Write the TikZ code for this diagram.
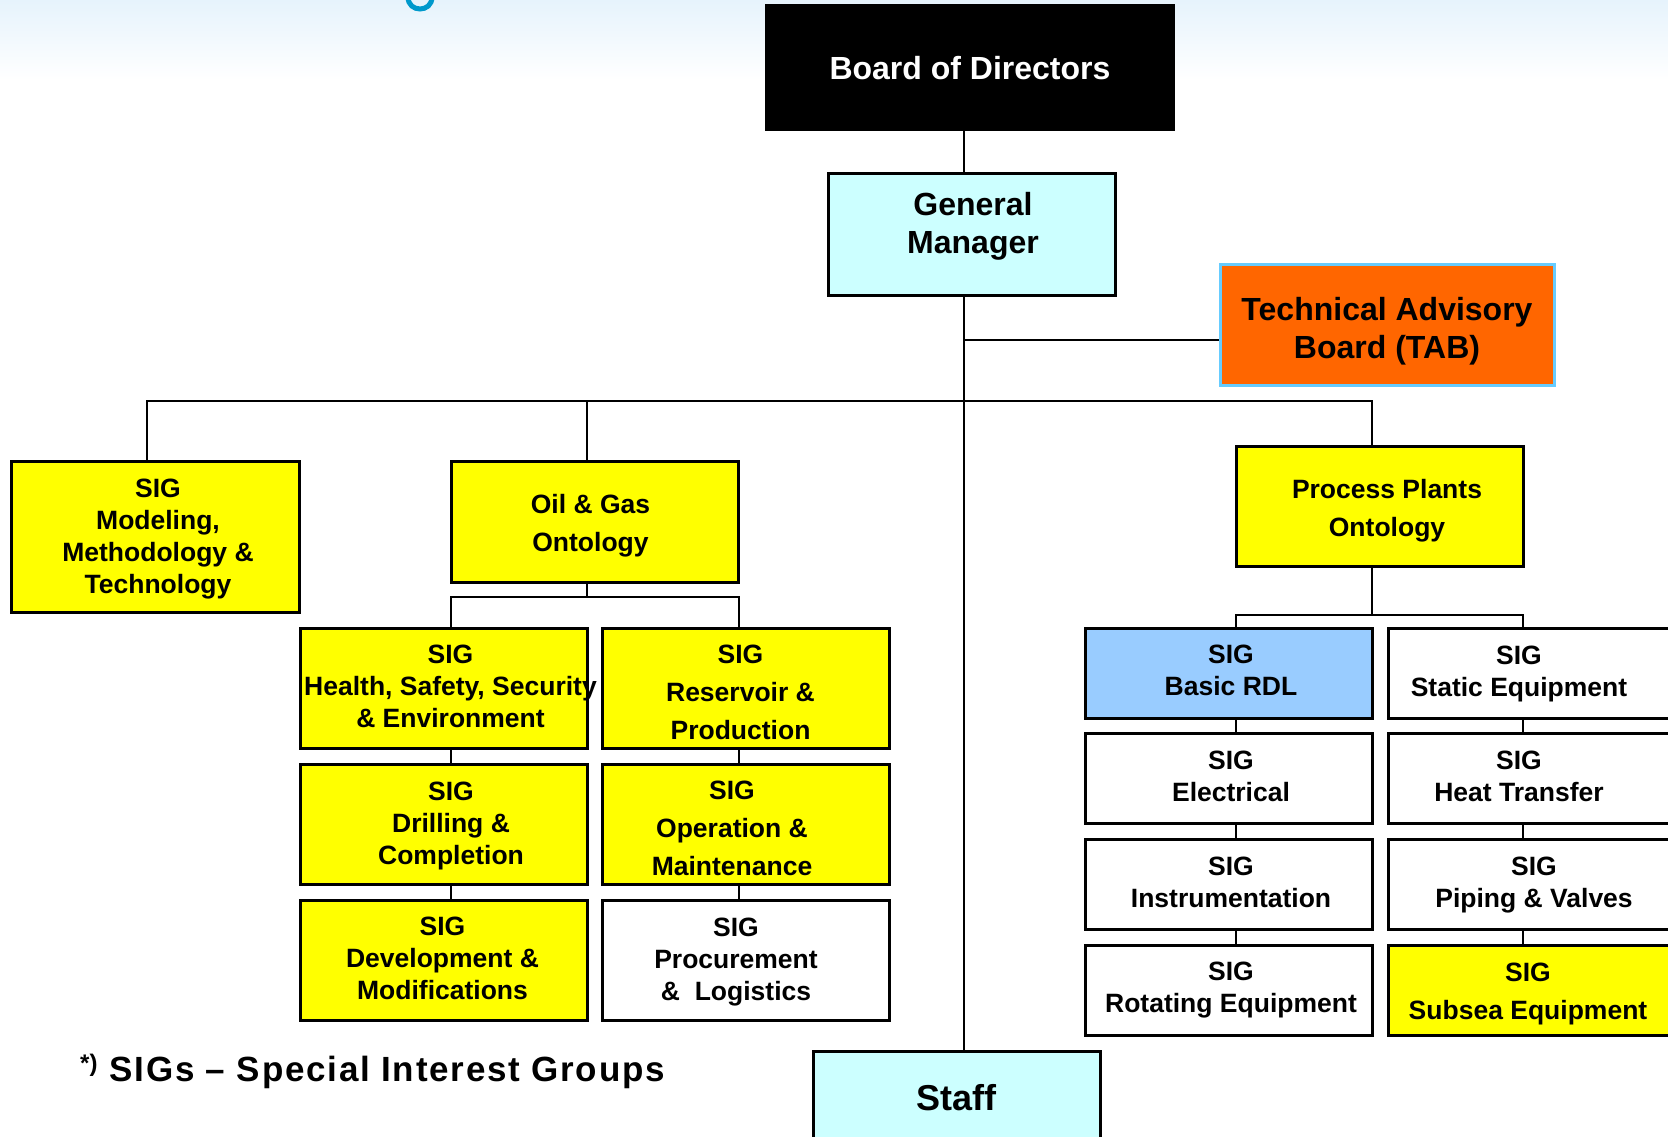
\documentclass[tikz,border=0pt]{standalone}
\usepackage{fontspec}
\setmainfont{Liberation Sans}
\definecolor{sigyellow}{HTML}{FFFF00}
\definecolor{lcyan}{HTML}{CCFFFF}
\definecolor{taborange}{HTML}{FF6600}
\definecolor{tabborder}{HTML}{66CCFF}
\definecolor{rdlblue}{HTML}{99CCFF}
\definecolor{titleblue}{HTML}{0099CC}
\definecolor{topblue}{RGB}{230,243,252}
\begin{document}
\begin{tikzpicture}[x=1pt,y=-1pt,
  box/.style={draw=black, line width=3pt, rectangle, inner sep=0pt},
  yel/.style={box, fill=sigyellow},
  wht/.style={box, fill=white},
  colbox/.style={minimum width=287pt, minimum height=120pt},
  rbox/.style={minimum width=287pt, minimum height=90pt},
  lbl/.style={align=center, inner sep=0pt, font=\bfseries\fontsize{26.5}{32}\selectfont},
  lblw/.style={align=center, inner sep=0pt, font=\bfseries\fontsize{26.5}{38}\selectfont},
  big/.style={align=center, inner sep=0pt, font=\bfseries\fontsize{32}{38}\selectfont},
  conn/.style={draw=black, line width=2pt}
]
\useasboundingbox (0,0) rectangle (1668,1137);
\clip (0,0) rectangle (1668,1137);
\fill[white] (0,0) rectangle (1668,1137);
\shade[top color=topblue, bottom color=white] (0,0) rectangle (1668,80);
\draw[titleblue, line width=5pt] (408,-3) .. controls (408,13) and (432,13) .. (432,-3);

% coordinates for connector joints
\coordinate (trunk) at (964,401);
\coordinate (tabj) at (964,340);
\coordinate (dL) at (147,401);
\coordinate (dM) at (587,401);
\coordinate (dR) at (1372,401);
\coordinate (ogL) at (451,597);
\coordinate (ogR) at (739,597);
\coordinate (ppL) at (1236,615);
\coordinate (ppR) at (1523,615);

% top boxes
\node[box, fill=black, minimum width=407pt, minimum height=124pt] (board) at (969.5,68) {};
\node[big, text=white] (boardt) at (970,68) {Board of Directors};
\node[box, fill=lcyan, minimum width=287pt, minimum height=122pt] (gm) at (971.5,234) {};
\node[big] (gmt) at (973,226.5) {General\\Manager};
\node[box, draw=tabborder, fill=taborange, minimum width=334pt, minimum height=121pt] (tab) at (1387,324.5) {};
\node[big] (tabt) at (1387,331.5) {Technical Advisory\\Board (TAB)};

% second level
\node[yel, minimum width=288pt, minimum height=151pt] (sigmod) at (155,536.5) {};
\node[lbl] (sigmodt) at (158,539) {SIG\\Modeling,\\Methodology \&\\Technology};
\node[yel, minimum width=287pt, minimum height=121pt] (ogo) at (594.5,521.5) {};
\node[lblw] (ogot) at (590.5,525.5) {Oil \& Gas\\Ontology};
\node[yel, minimum width=287pt, minimum height=120pt] (ppo) at (1379.5,506) {};
\node[lblw] (ppot) at (1387,510.5) {Process Plants\\Ontology};

% oil & gas SIGs
\node[yel, colbox] (hsse) at (443.5,688) {};
\node[lbl] (hsset) at (450.5,686) {SIG\\Health, Safety, Security\\\& Environment};
\node[yel, colbox] (res) at (745.5,688) {};
\node[lblw] (rest) at (740.5,692.5) {SIG\\Reservoir \&\\Production};
\node[yel, colbox] (drill) at (443.5,824) {};
\node[lbl] (drillt) at (451,825.5) {SIG\\Drilling \&\\Completion};
\node[yel, colbox] (oper) at (745.5,824) {};
\node[lblw] (opert) at (732,828.5) {SIG\\Operation \&\\Maintenance};
\node[yel, colbox] (dev) at (443.5,960) {};
\node[lbl] (devt) at (442.5,958.5) {SIG\\Development \&\\Modifications};
\node[wht, colbox] (proc) at (745.5,960) {};
\node[lbl] (proct) at (736,962) {SIG\\Procurement\\\&~~Logistics};

% process plant SIGs
\node[box, fill=rdlblue, rbox] (rdl) at (1228.5,673) {};
\node[lbl] (rdlt) at (1231,670) {SIG\\Basic RDL};
\node[wht, rbox] (stat) at (1531.5,673) {};
\node[lbl] (statt) at (1519,673.5) {SIG\\Static Equipment};
\node[wht, rbox] (elec) at (1228.5,778) {};
\node[lbl] (elect) at (1231,776) {SIG\\Electrical};
\node[wht, rbox] (heat) at (1531.5,778) {};
\node[lbl] (heatt) at (1519,776) {SIG\\Heat Transfer};
\node[wht, rbox] (instr) at (1228.5,884.5) {};
\node[lbl] (instrt) at (1231,882) {SIG\\Instrumentation};
\node[wht, rbox] (pipe) at (1531.5,884.5) {};
\node[lbl] (pipet) at (1534,885.5) {SIG\\Piping \& Valves};
\node[wht, rbox] (rot) at (1228.5,990) {};
\node[lbl] (rott) at (1231,990.5) {SIG\\Rotating Equipment};
\node[yel, rbox] (sub) at (1531.5,990) {};
\node[lblw] (subt) at (1528,993.5) {SIG\\Subsea Equipment};

% staff
\node[box, fill=lcyan, minimum width=287pt, minimum height=120pt] (staff) at (956.5,1111) {};
\node[inner sep=0pt, font=\bfseries\fontsize{36}{40}\selectfont] (stafft) at (956,1098) {Staff};

% footnote
\node[anchor=west, inner sep=0pt, font=\bfseries\fontsize{35}{40}\selectfont] (note) at (80,1071)
  {\raisebox{10pt}{\fontsize{24}{26}\selectfont *)}\hspace{12pt}{\addfontfeature{LetterSpace=5}SIGs – Special Interest Groups}};

% connectors
\draw[conn] (board.south -| trunk) -- (gm.north -| trunk);
\draw[conn] (gm.south -| trunk) -- (staff.north -| trunk);
\draw[conn] (tabj) -- (tabj -| tab.west);
\draw[conn] (dL |- sigmod.north) -- (dL) -- (dR) -- (dR |- ppo.north);
\draw[conn] (dM) -- (dM |- ogo.north);
\draw[conn] (ogo.south -| dM) -- (dM |- ogL);
\draw[conn] (hsse.north -| ogL) -- (ogL) -- (ogR) -- (res.north -| ogR);
\draw[conn] (hsse.south -| ogL) -- (drill.north -| ogL);
\draw[conn] (drill.south -| ogL) -- (dev.north -| ogL);
\draw[conn] (res.south -| ogR) -- (oper.north -| ogR);
\draw[conn] (oper.south -| ogR) -- (proc.north -| ogR);
\draw[conn] (ppo.south -| dR) -- (dR |- ppL);
\draw[conn] (rdl.north -| ppL) -- (ppL) -- (ppR) -- (stat.north -| ppR);
\draw[conn] (rdl.south -| ppL) -- (elec.north -| ppL);
\draw[conn] (elec.south -| ppL) -- (instr.north -| ppL);
\draw[conn] (instr.south -| ppL) -- (rot.north -| ppL);
\draw[conn] (stat.south -| ppR) -- (heat.north -| ppR);
\draw[conn] (heat.south -| ppR) -- (pipe.north -| ppR);
\draw[conn] (pipe.south -| ppR) -- (sub.north -| ppR);
\end{tikzpicture}
\end{document}
